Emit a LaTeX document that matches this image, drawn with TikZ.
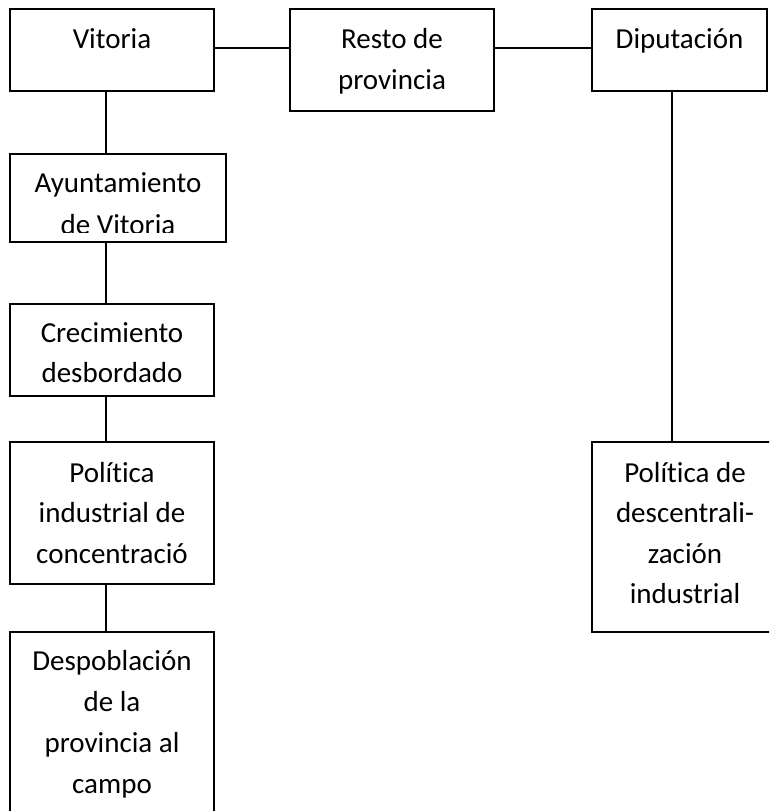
\documentclass[tikz,border=0pt]{standalone}
\usepackage{fontspec}
\setmainfont{Carlito}[Ligatures={NoCommon,NoRare,NoDiscretionary}]
\usetikzlibrary{calc}
\begin{document}
\begin{tikzpicture}[x=1pt,y=-1pt,
  boxnode/.style={draw, line width=1.4pt, rectangle, inner sep=0pt, outer sep=0pt},
  txt/.style={anchor=base, inner sep=0pt, font=\fontsize{29}{40}\selectfont},
  conn/.style={line width=1.4pt}]
\useasboundingbox (0,0) rectangle (769,811);
\clip (0,0) rectangle (769,811);
% boxes
\node[boxnode, minimum width=204pt, minimum height=82pt] (vit) at (112,50) {};
\node[boxnode, minimum width=204pt, minimum height=102pt] (res) at (392,60) {};
\node[boxnode, minimum width=175pt, minimum height=82pt] (dip) at (679.5,50) {};
\node[boxnode, minimum width=216pt, minimum height=88pt] (ayu) at (118,198) {};
\node[boxnode, minimum width=204pt, minimum height=92pt] (cre) at (112,350) {};
\node[boxnode, minimum width=204pt, minimum height=142pt] (pic) at (112,513) {};
\node[boxnode, minimum width=204pt, minimum height=218pt] (des) at (112,741) {};
\node[boxnode, minimum width=186pt, minimum height=190pt] (pde) at (685,537) {};
% texts
\foreach \t [count=\i from 0] in {Vitoria}
  \node[txt] (vit-\i) at ($(vit.north)+(0,39+40.7*\i)$) {\t};
\foreach \t [count=\i from 0] in {Resto de, provincia}
  \node[txt] (res-\i) at ($(res.north)+(0,39+41.5*\i)$) {\t};
\foreach \t [count=\i from 0] in {Diputación}
  \node[txt] (dip-\i) at ($(dip.north)+(0,39+40.7*\i)$) {\t};
\begin{scope}
  \clip (ayu.north west) rectangle ([yshift=9.6pt]ayu.south east);
  \foreach \t [count=\i from 0] in {Ayuntamiento, de Vitoria}
    \node[txt] (ayu-\i) at ($(ayu.north)+(0,38+42*\i)$) {\t};
\end{scope}
\foreach \t [count=\i from 0] in {Crecimiento, desbordado}
  \node[txt] (cre-\i) at ($(cre.north)+(0,38+40.7*\i)$) {\t};
\foreach \t [count=\i from 0] in {Política, industrial de, concentració}
  \node[txt] (pic-\i) at ($(pic.north)+(0,40+40.5*\i)$) {\t};
\foreach \t [count=\i from 0] in {Despoblación, de la, provincia al, campo}
  \node[txt] (des-\i) at ($(des.north)+(0,38+41*\i)$) {\t};
\foreach \t [count=\i from 0] in {Política de, descentrali-, zación, industrial}
  \node[txt] (pde-\i) at ($(pde.north)+(0,40+40.5*\i)$) {\t};
% connectors
\coordinate (hy) at (0,48);
\coordinate (ls) at (106,0);
\coordinate (rs) at (672,0);
\draw[conn] (vit.east |- hy) -- (res.west |- hy);
\draw[conn] (res.east |- hy) -- (dip.west |- hy);
\draw[conn] (vit.south -| ls) -- (ayu.north -| ls);
\draw[conn] (ayu.south -| ls) -- (cre.north -| ls);
\draw[conn] (cre.south -| ls) -- (pic.north -| ls);
\draw[conn] (pic.south -| ls) -- (des.north -| ls);
\draw[conn] (dip.south -| rs) -- (pde.north -| rs);
\end{tikzpicture}
\end{document}
